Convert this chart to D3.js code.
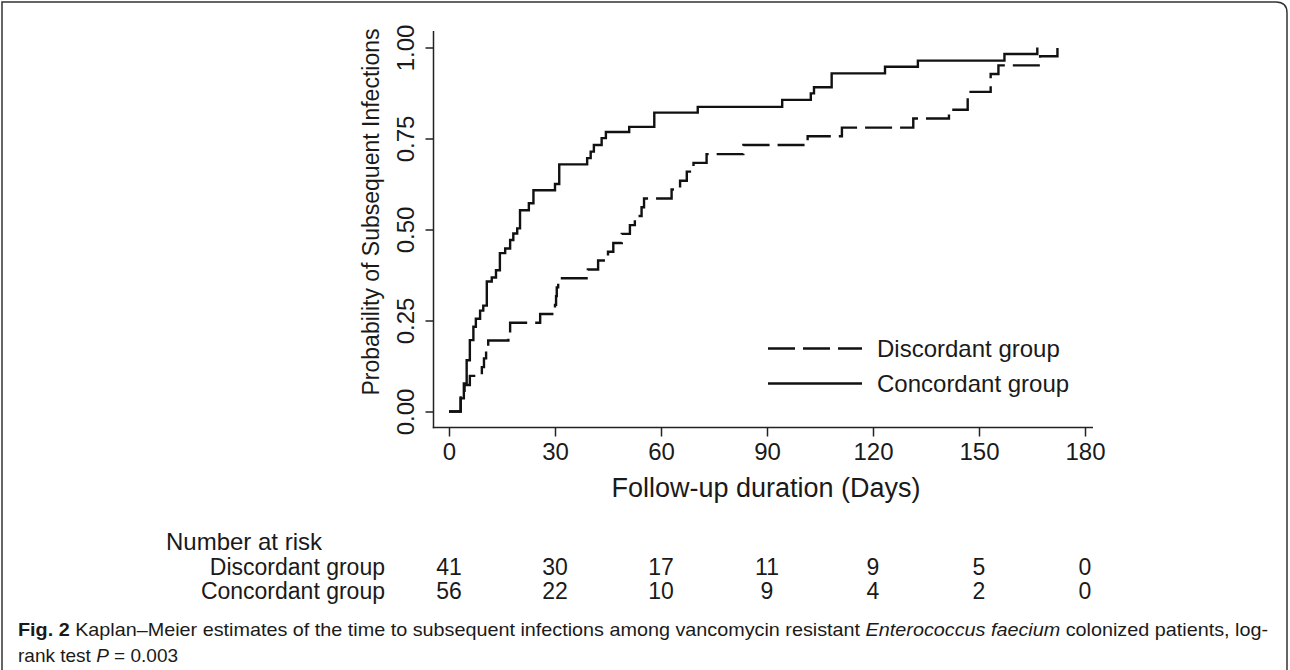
<!DOCTYPE html>
<html>
<head>
<meta charset="utf-8">
<script src="https://cdn.jsdelivr.net/npm/d3@7"></script>
<style>
  html, body { margin: 0; padding: 0; background: #fff; }
  svg text { font-family: "Liberation Sans", Arial, sans-serif; fill: #1a1a1a; }
</style>
</head>
<body>
<div id="chart"></div>
<script>
document.addEventListener("DOMContentLoaded", function () {
    const width = 1290, height = 670;

    // Kaplan-Meier steps (days, cumulative probability)
    const discordantDays = [0, 3.3, 4.4, 5.9, 9.3, 9.9, 10.5, 11.1, 16.8, 17.3, 25.8, 30.0, 30.3, 30.5, 30.9, 39.3, 42.2, 45.0, 46.5, 48.9, 51.2, 52.6, 54.5, 55.2, 63.0, 65.4, 67.3, 69.2, 72.9, 83.3, 101.5, 111.2, 131.4, 141.5, 146.8, 153.3, 155.5, 167.3, 172.2];
    const discordantProb = [0, 0.049, 0.073, 0.098, 0.122, 0.146, 0.171, 0.195, 0.220, 0.244, 0.268, 0.293, 0.317, 0.341, 0.366, 0.390, 0.415, 0.439, 0.463, 0.488, 0.512, 0.537, 0.561, 0.585, 0.610, 0.634, 0.659, 0.683, 0.707, 0.732, 0.756, 0.780, 0.805, 0.829, 0.878, 0.927, 0.951, 0.976, 1.0];
    const concordantDays = [0, 3.3, 4.2, 5.0, 5.9, 6.9, 7.6, 8.8, 9.7, 10.7, 12.1, 13.3, 14.4, 15.9, 17.3, 18.2, 19.3, 20.1, 22.6, 23.9, 30.0, 31.2, 39.1, 40.1, 41.0, 43.2, 44.4, 51.0, 58.1, 70.4, 94.3, 102.4, 103.3, 108.3, 123.4, 132.7, 157.2, 166.5];
    const concordantProb = [0, 0.036, 0.077, 0.141, 0.196, 0.233, 0.255, 0.277, 0.291, 0.357, 0.368, 0.388, 0.435, 0.448, 0.471, 0.489, 0.503, 0.553, 0.572, 0.608, 0.625, 0.679, 0.696, 0.714, 0.732, 0.751, 0.768, 0.782, 0.821, 0.837, 0.856, 0.874, 0.891, 0.929, 0.947, 0.964, 0.982, 1.0];

    const xTicks = [0, 30, 60, 90, 120, 150, 180];
    const yTicks = [0, 0.25, 0.5, 0.75, 1];
    const groupNames = ["Discordant group", "Concordant group"];
    const riskDiscordant = [41, 30, 17, 11, 9, 5, 0];
    const riskConcordant = [56, 22, 10, 9, 4, 2, 0];

    const svg = d3.select("#chart").append("svg")
        .attr("width", width)
        .attr("height", height);

    // outer frame, only the top right corner is rounded
    svg.append("path")
        .attr("d", "M2,680 L2,2 L1276,2 Q1287,2 1287,13 L1287,680")
        .attr("fill", "none")
        .attr("stroke", "#333")
        .attr("stroke-width", 1.5);

    const x = d3.scaleLinear().domain([0, 180]).range([449, 1085]);
    const y = d3.scaleLinear().domain([0, 1]).range([411.5, 47.5]);

    // axes
    const xAxis = svg.append("g")
        .attr("transform", "translate(0,427.5)")
        .call(d3.axisBottom(x).tickValues(xTicks).tickSize(9).tickPadding(6).tickFormat(d3.format("d")));
    xAxis.select(".domain").remove();
    xAxis.selectAll("line").attr("stroke", "#222").attr("stroke-width", 1.5);
    xAxis.selectAll("text").style("font-size", "24px").attr("fill", "#1a1a1a")
        .attr("font-family", "Liberation Sans, Arial, sans-serif");

    const yAxis = svg.append("g")
        .attr("transform", "translate(433.5,0)")
        .call(d3.axisLeft(y).tickValues(yTicks).tickSize(8).tickFormat(d3.format(".2f")));
    yAxis.select(".domain").remove();
    yAxis.selectAll("line").attr("stroke", "#222").attr("stroke-width", 1.5);
    yAxis.selectAll("text")
        .attr("x", null).attr("dy", null)
        .attr("text-anchor", "middle")
        .attr("transform", "translate(-20,0) rotate(-90)")
        .style("font-size", "24px")
        .attr("font-family", "Liberation Sans, Arial, sans-serif");

    svg.append("line")
        .attr("x1", 433.5).attr("x2", 433.5).attr("y1", 31).attr("y2", 428.2)
        .attr("stroke", "#222").attr("stroke-width", 1.5);
    svg.append("line")
        .attr("x1", 432.8).attr("x2", 1093).attr("y1", 427.5).attr("y2", 427.5)
        .attr("stroke", "#222").attr("stroke-width", 1.5);

    // axis titles
    svg.append("text")
        .attr("x", 766).attr("y", 497)
        .attr("text-anchor", "middle")
        .style("font-size", "27px")
        .text("Follow-up duration (Days)");

    svg.append("text")
        .attr("transform", "translate(379,212) rotate(-90)")
        .attr("text-anchor", "middle")
        .style("font-size", "23px")
        .text("Probability of Subsequent Infections");

    // curves
    const line = d3.line()
        .x(d => x(d[0]))
        .y(d => y(d[1]))
        .curve(d3.curveStepAfter);

    svg.append("path")
        .datum(concordantDays.map((d, i) => [d, concordantProb[i]]))
        .attr("d", line)
        .attr("fill", "none")
        .attr("stroke", "#111")
        .attr("stroke-width", 2.4);

    svg.append("path")
        .datum(discordantDays.map((d, i) => [d, discordantProb[i]]))
        .attr("d", line)
        .attr("fill", "none")
        .attr("stroke", "#111")
        .attr("stroke-width", 2.4)
        .attr("stroke-dasharray", "27,8");

    // legend
    const legend = svg.append("g");
    [0, 1].forEach(i => {
        legend.append("line")
            .attr("x1", 768).attr("x2", 862)
            .attr("y1", 348.5 + i * 35).attr("y2", 348.5 + i * 35)
            .attr("stroke", "#111").attr("stroke-width", 2.4)
            .attr("stroke-dasharray", i === 0 ? "27,8" : null);
        legend.append("text")
            .attr("x", 877).attr("y", 357 + i * 35)
            .style("font-size", "24px")
            .text(groupNames[i]);
    });

    // number at risk table
    svg.append("text")
        .attr("x", 322).attr("y", 550)
        .attr("text-anchor", "end")
        .style("font-size", "24px")
        .text("Number at risk");

    [riskDiscordant, riskConcordant].forEach((row, i) => {
        svg.append("text")
            .attr("x", 385).attr("y", 575 + i * 24)
            .attr("text-anchor", "end")
            .style("font-size", "23px")
            .text(groupNames[i]);
        svg.selectAll(null)
            .data(row)
            .enter().append("text")
            .attr("x", (d, j) => x(xTicks[j]))
            .attr("y", 575 + i * 24)
            .attr("text-anchor", "middle")
            .style("font-size", "23px")
            .text(d => d);
    });

    // caption
    const cap1 = svg.append("text")
        .attr("x", 18).attr("y", 636)
        .attr("textLength", 1250)
        .attr("lengthAdjust", "spacingAndGlyphs")
        .style("font-size", "19px");
    cap1.append("tspan").attr("font-weight", "bold").text("Fig. 2");
    cap1.append("tspan").text(" Kaplan\u2013Meier estimates of the time to subsequent infections among vancomycin resistant ");
    cap1.append("tspan").attr("font-style", "italic").text("Enterococcus faecium");
    cap1.append("tspan").text(" colonized patients, log-");

    const cap2 = svg.append("text")
        .attr("x", 18).attr("y", 662)
        .style("font-size", "19px");
    cap2.append("tspan").text("rank test ");
    cap2.append("tspan").attr("font-style", "italic").text("P");
    cap2.append("tspan").text(" = 0.003");
});
</script>
</body>
</html>
